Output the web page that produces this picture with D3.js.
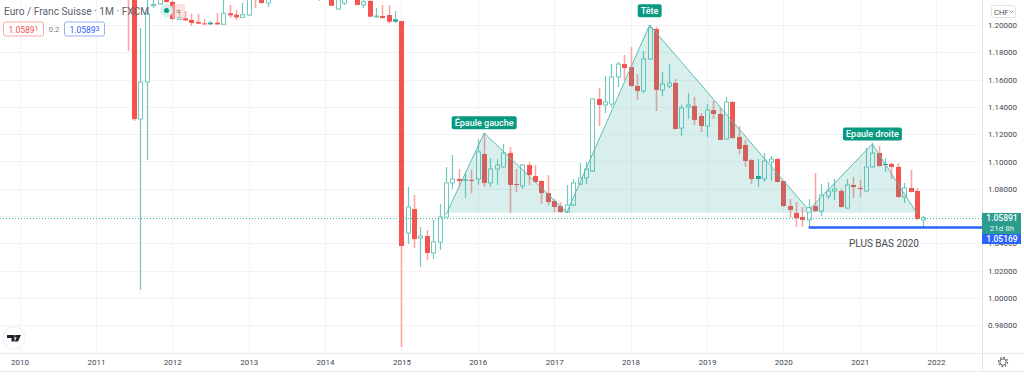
<!DOCTYPE html>
<html>
<head>
<meta charset="utf-8">
<script src="https://cdn.jsdelivr.net/npm/d3@7"></script>
<style>
  body { margin: 0; background: #fff; }
  text { font-family: Roboto, sans-serif; }
  .axis text { font-size: 8px; fill: #434651; }
  .axis path, .axis line { display: none; }
</style>
</head>
<body>
<div id="chart"></div>
<script>
// monthly candles, first one is june 2011 (month 17 counted from jan 2010)
const firstMonth = 17;
const opens = [
  1.2290, 1.2260, 1.1311, 1.1582, 1.2143, 1.2154, 1.2200, 1.2169, 1.2040, 1.2049,
  1.2037, 1.2022, 1.2012, 1.2005, 1.2017, 1.2005, 1.2086, 1.2075, 1.2056, 1.2073,
  1.2300, 1.2230, 1.2161, 1.2200, 1.2350, 1.2300, 1.2350, 1.2310, 1.2370, 1.2330,
  1.2300, 1.2240, 1.2290, 1.2117, 1.2161, 1.2200, 1.2220, 1.2147, 1.2176, 1.2059,
  1.2066, 1.2073, 1.2024, 1.2029, 1.0476, 1.0652, 1.0440, 1.0454, 1.0330, 1.0410,
  1.0593, 1.0843, 1.0872, 1.0861, 1.0865, 1.0872, 1.1055, 1.0843, 1.0945, 1.0960,
  1.1062, 1.0835, 1.0821, 1.0974, 1.0894, 1.0857, 1.0769, 1.0711, 1.0674, 1.0630,
  1.0681, 1.0835, 1.0879, 1.0930, 1.1458, 1.1414, 1.1421, 1.1619, 1.1714, 1.1692,
  1.1553, 1.1517, 1.1751, 1.1971, 1.1524, 1.1553, 1.1575, 1.1245, 1.1399, 1.1407,
  1.1333, 1.1260, 1.1377, 1.1348, 1.1165, 1.1436, 1.1180, 1.1121, 1.1011, 1.0872,
  1.0872, 1.0996, 1.1018, 1.0857, 1.0674, 1.0623, 1.0593, 1.0572, 1.0674, 1.0637,
  1.0747, 1.0784, 1.0784, 1.0659, 1.0828, 1.0806, 1.0784, 1.0960, 1.1062, 1.0974,
  1.0982, 1.0960, 1.0740, 1.0806, 1.0784, 1.0572,
];
const highs = [
  1.2320, 1.2330, 1.1978, 1.2200, 1.2183, 1.2220, 1.2240, 1.2180, 1.2110, 1.2103,
  1.2081, 1.2081, 1.2044, 1.2029, 1.2088, 1.2200, 1.2147, 1.2110, 1.2161, 1.2300,
  1.2340, 1.2260, 1.2230, 1.2400, 1.2380, 1.2420, 1.2400, 1.2400, 1.2420, 1.2380,
  1.2350, 1.2320, 1.2320, 1.2240, 1.2230, 1.2260, 1.2250, 1.2200, 1.2200, 1.2125,
  1.2147, 1.2147, 1.2103, 1.2030, 1.0813, 1.0755, 1.0520, 1.0498, 1.0572, 1.0689,
  1.0960, 1.1048, 1.0945, 1.0916, 1.0938, 1.1165, 1.1209, 1.1026, 1.1018, 1.1128,
  1.1106, 1.0945, 1.0982, 1.0996, 1.0974, 1.0865, 1.0901, 1.0725, 1.0703, 1.0828,
  1.0872, 1.0989, 1.0996, 1.1461, 1.1538, 1.1626, 1.1714, 1.1729, 1.1780, 1.1839,
  1.1641, 1.1810, 1.2000, 1.1985, 1.1656, 1.1714, 1.1604, 1.1414, 1.1502, 1.1473,
  1.1355, 1.1421, 1.1443, 1.1392, 1.1473, 1.1443, 1.1260, 1.1158, 1.1018, 1.1018,
  1.1062, 1.1040, 1.1026, 1.0860, 1.0725, 1.0703, 1.0667, 1.0725, 1.0916, 1.0835,
  1.0850, 1.0872, 1.0799, 1.0872, 1.0887, 1.0865, 1.1099, 1.1136, 1.1114, 1.1026,
  1.0989, 1.0989, 1.0843, 1.0938, 1.0806, 1.0601,
];
const lows = [
  1.1810, 1.1297, 1.0059, 1.1011, 1.2125, 1.2147, 1.2161, 1.2037, 1.2037, 1.2029,
  1.1993, 1.2007, 1.2000, 1.2000, 1.2000, 1.2000, 1.2051, 1.2037, 1.2051, 1.2066,
  1.2125, 1.2157, 1.2132, 1.2190, 1.2260, 1.2280, 1.2270, 1.2290, 1.2300, 1.2260,
  1.2176, 1.2190, 1.2139, 1.2110, 1.2147, 1.2190, 1.2143, 1.2125, 1.2059, 1.2051,
  1.2048, 1.2011, 1.2015, 0.9641, 1.0396, 1.0366, 1.0227, 1.0279, 1.0286, 1.0352,
  1.0590, 1.0799, 1.0813, 1.0733, 1.0769, 1.0828, 1.0813, 1.0813, 1.0828, 1.0956,
  1.0623, 1.0777, 1.0799, 1.0828, 1.0843, 1.0689, 1.0681, 1.0630, 1.0623, 1.0623,
  1.0674, 1.0828, 1.0835, 1.0923, 1.1260, 1.1355, 1.1399, 1.1546, 1.1597, 1.1546,
  1.1451, 1.1502, 1.1744, 1.1370, 1.1480, 1.1538, 1.1235, 1.1187, 1.1311, 1.1267,
  1.1216, 1.1180, 1.1311, 1.1155, 1.1161, 1.1168, 1.1055, 1.0960, 1.0835, 1.0813,
  1.0850, 1.0857, 1.0847, 1.0667, 1.0586, 1.0520, 1.0520, 1.0513, 1.0630, 1.0601,
  1.0725, 1.0718, 1.0663, 1.0655, 1.0733, 1.0740, 1.0781, 1.0956, 1.0963, 1.0923,
  1.0872, 1.0736, 1.0696, 1.0774, 1.0572, 1.0520,
];
const closes = [
  1.2260, 1.1311, 1.1582, 1.2081, 1.2150, 1.2190, 1.2169, 1.2044, 1.2055, 1.2034,
  1.2015, 1.2010, 1.2007, 1.2017, 1.2005, 1.2086, 1.2071, 1.2056, 1.2075, 1.2250,
  1.2200, 1.2161, 1.2200, 1.2350, 1.2300, 1.2350, 1.2310, 1.2370, 1.2330, 1.2300,
  1.2240, 1.2290, 1.2141, 1.2200, 1.2200, 1.2220, 1.2147, 1.2171, 1.2061, 1.2066,
  1.2051, 1.2024, 1.2042, 1.0381, 1.0667, 1.0432, 1.0454, 1.0330, 1.0410, 1.0593,
  1.0843, 1.0872, 1.0857, 1.0868, 1.0857, 1.1070, 1.0843, 1.0945, 1.0974, 1.1062,
  1.0828, 1.0828, 1.0974, 1.0901, 1.0850, 1.0769, 1.0703, 1.0667, 1.0630, 1.0681,
  1.0843, 1.0879, 1.0945, 1.1458, 1.1414, 1.1436, 1.1619, 1.1714, 1.1685, 1.1553,
  1.1517, 1.1751, 1.1978, 1.1524, 1.1568, 1.1575, 1.1238, 1.1392, 1.1414, 1.1304,
  1.1260, 1.1377, 1.1348, 1.1158, 1.1436, 1.1172, 1.1092, 1.1004, 1.0872, 1.0894,
  1.1004, 1.1018, 1.0850, 1.0674, 1.0645, 1.0586, 1.0572, 1.0659, 1.0637, 1.0755,
  1.0784, 1.0799, 1.0667, 1.0828, 1.0813, 1.0799, 1.0960, 1.1062, 1.0967, 1.0982,
  1.0960, 1.0740, 1.0806, 1.0777, 1.0579, 1.05891,
];
// hollow candle style: these months are drawn filled green
const solidGreen = [30, 59, 70, 116, 136];

const years = d3.range(2010, 2023);
const priceTicks = [1.2, 1.18, 1.16, 1.14, 1.12, 1.1, 1.08, 1.06, 1.04, 1.02, 1.0, 0.98];
// 1.06 sits behind the price tag
const priceLabels = priceTicks.filter((d) => d !== 1.06);

// head and shoulders drawing
const patternMonths = [67, 73, 86, 99, 124, 134, 141];
const patternPrices = [1.0608, 1.1209, 1.0628, 1.2, 1.0645, 1.1128, 1.0621];
const patternBase = 1.0625;
const patternLabels = ["Épaule gauche", "Tête", "Epaule droite"];
const labelMonths = [73, 99, 134];
const labelPrices = [1.1283, 1.2105, 1.1202];

const lastPrice = 1.05891;
const lowPrice = 1.05169;
const lowMonth = 124;

const width = 1024;
const height = 376;
const plotRight = 982;
const plotBottom = 353;
const green = "#26a69a";
const red = "#f55350";

const x = d3.scaleLinear().domain([0, 144]).range([19.5, 936]);
const y = d3.scaleLinear().domain([1.2, 0.98]).range([25, 325.3]);

const svg = d3
  .select("#chart")
  .append("svg")
  .attr("width", width)
  .attr("height", height)
  .style("display", "block");

svg
  .append("defs")
  .append("clipPath")
  .attr("id", "plot")
  .append("rect")
  .attr("width", plotRight)
  .attr("height", plotBottom);

// grid
svg
  .append("g")
  .selectAll("line")
  .data(priceTicks)
  .join("line")
  .attr("x1", 0)
  .attr("x2", plotRight)
  .attr("y1", (d) => Math.round(y(d)) + 0.5)
  .attr("y2", (d) => Math.round(y(d)) + 0.5)
  .attr("stroke", "#f3f3f5");

svg
  .append("g")
  .selectAll("line")
  .data(years)
  .join("line")
  .attr("x1", (d) => Math.round(x((d - 2010) * 12)) + 0.5)
  .attr("x2", (d) => Math.round(x((d - 2010) * 12)) + 0.5)
  .attr("y1", 0)
  .attr("y2", plotBottom)
  .attr("stroke", "#f3f3f5");

const plot = svg.append("g").attr("clip-path", "url(#plot)");

// candles
const candles = opens.map((o, i) => ({
  month: firstMonth + i,
  open: o,
  high: highs[i],
  low: lows[i],
  close: closes[i],
}));
const isGreen = (d) => d.close >= d.open || solidGreen.includes(d.month);
const isHollow = (d) => d.close >= d.open && !solidGreen.includes(d.month);

plot
  .append("g")
  .selectAll("line")
  .data(candles)
  .join("line")
  .attr("x1", (d) => Math.round(x(d.month)) + 0.5)
  .attr("x2", (d) => Math.round(x(d.month)) + 0.5)
  .attr("y1", (d) => y(d.high))
  .attr("y2", (d) => y(d.low))
  .attr("stroke", (d) => (isGreen(d) ? "#6fcabd" : "#fba5a2"))
  .attr("stroke-width", (d) => (isGreen(d) ? 1.2 : 1.6));

plot
  .append("g")
  .selectAll("rect")
  .data(candles)
  .join("rect")
  .attr("x", (d) => Math.round(x(d.month)) - (isHollow(d) ? 1.5 : 2))
  .attr("width", (d) => (isHollow(d) ? 4 : 5))
  .attr("y", (d) => y(Math.max(d.open, d.close)))
  .attr("height", (d) => Math.max(1, Math.abs(y(d.open) - y(d.close))))
  .attr("fill", (d) => (isHollow(d) ? "#fff" : isGreen(d) ? green : red))
  .attr("stroke", (d) => (isHollow(d) ? "#6fcabd" : "none"));

// pattern on top of the candles
const patternPoints = patternMonths.map((m, i) => [m, patternPrices[i]]);
const patternArea = d3
  .area()
  .x((d) => x(d[0]))
  .y0(y(patternBase))
  .y1((d) => y(d[1]));
const patternLine = d3
  .line()
  .x((d) => x(d[0]))
  .y((d) => y(d[1]));

plot
  .append("path")
  .attr("d", patternArea(patternPoints))
  .attr("fill", green)
  .attr("fill-opacity", 0.18);

plot
  .append("path")
  .attr("d", patternLine(patternPoints))
  .attr("fill", "none")
  .attr("stroke", "#5dbcae")
  .attr("stroke-width", 1);

plot
  .append("circle")
  .attr("cx", x(lowMonth))
  .attr("cy", y(patternPrices[4]))
  .attr("r", 2.5)
  .attr("fill", "#fff")
  .attr("stroke", "#5dbcae");

// last price line
plot
  .append("line")
  .attr("x1", 0)
  .attr("x2", plotRight)
  .attr("y1", Math.round(y(lastPrice)) + 0.5)
  .attr("y2", Math.round(y(lastPrice)) + 0.5)
  .attr("stroke", "#3fb5a6")
  .attr("stroke-dasharray", "1 2");

// low of 2020
plot
  .append("line")
  .attr("x1", x(lowMonth))
  .attr("x2", plotRight)
  .attr("y1", y(lowPrice))
  .attr("y2", y(lowPrice))
  .attr("stroke", "#2962ff")
  .attr("stroke-width", 2.5);

svg
  .append("text")
  .attr("x", 884)
  .attr("y", 246.5)
  .attr("text-anchor", "middle")
  .style("font-size", "10px")
  .attr("fill", "#4a4a50")
  .text("PLUS BAS 2020");

// pattern labels
const labels = svg
  .append("g")
  .selectAll("g")
  .data(patternLabels)
  .join("g")
  .attr("transform", (d, i) => `translate(${x(labelMonths[i])},${y(labelPrices[i])})`);

labels
  .append("text")
  .attr("text-anchor", "middle")
  .attr("dy", "0.35em")
  .attr("fill", "#fff")
  .style("font-size", "9px")
  .style("font-weight", 500)
  .text((d) => d)
  .each(function () {
    const b = this.getBBox();
    d3.select(this.parentNode)
      .insert("rect", "text")
      .attr("x", b.x - 3)
      .attr("y", -6.5)
      .attr("width", b.width + 6)
      .attr("height", 13)
      .attr("rx", 2)
      .attr("fill", "#089981");
  });

// axes
svg
  .append("rect")
  .attr("x", plotRight)
  .attr("y", 0)
  .attr("width", 1)
  .attr("height", 372)
  .attr("fill", "#e0e3eb");
svg
  .append("rect")
  .attr("x", 0)
  .attr("y", plotBottom)
  .attr("width", width)
  .attr("height", 1)
  .attr("fill", "#e8eaef");
svg
  .append("rect")
  .attr("x", 0)
  .attr("y", 371)
  .attr("width", width)
  .attr("height", 1)
  .attr("fill", "#e8eaef");

svg
  .append("g")
  .attr("class", "axis")
  .attr("transform", `translate(${plotRight},0)`)
  .call(d3.axisRight(y).tickValues(priceLabels).tickSize(0).tickPadding(6).tickFormat(d3.format(".5f")));

svg
  .append("g")
  .attr("class", "axis")
  .attr("transform", `translate(0,${plotBottom})`)
  .call(
    d3
      .axisBottom(x)
      .tickValues(years.map((d) => (d - 2010) * 12))
      .tickSize(0)
      .tickPadding(6)
      .tickFormat((d) => 2010 + d / 12)
  );

// price tags on the axis
const priceTag = svg.append("g");
priceTag
  .append("rect")
  .attr("x", plotRight)
  .attr("y", 213)
  .attr("width", 39)
  .attr("height", 21)
  .attr("fill", "#2a9d8f");
priceTag
  .append("text")
  .attr("x", 1002)
  .attr("y", 221)
  .attr("text-anchor", "middle")
  .attr("fill", "#fff")
  .style("font-size", "8.5px")
  .style("font-weight", 500)
  .text("1.05891");
priceTag
  .append("text")
  .attr("x", 1002)
  .attr("y", 231)
  .attr("text-anchor", "middle")
  .attr("fill", "#e3f4f1")
  .style("font-size", "8px")
  .text("21d 8h");
priceTag
  .append("rect")
  .attr("x", plotRight)
  .attr("y", 234)
  .attr("width", 39)
  .attr("height", 10)
  .attr("fill", "#2962ff");
priceTag
  .append("text")
  .attr("x", 1002)
  .attr("y", 242)
  .attr("text-anchor", "middle")
  .attr("fill", "#fff")
  .style("font-size", "8.5px")
  .style("font-weight", 500)
  .text("1.05169");

// currency button
svg
  .append("rect")
  .attr("x", 991.5)
  .attr("y", 5.5)
  .attr("width", 24)
  .attr("height", 12)
  .attr("rx", 2)
  .attr("fill", "#fff")
  .attr("stroke", "#e0e3eb");
svg
  .append("text")
  .attr("x", 994)
  .attr("y", 14.5)
  .attr("fill", "#50535e")
  .style("font-size", "7.5px")
  .text("CHF");
svg
  .append("path")
  .attr("d", "M1009.5 10.5l2 2l2-2")
  .attr("fill", "none")
  .attr("stroke", "#50535e")
  .attr("stroke-width", 0.7);

// header
svg
  .append("rect")
  .attr("x", 172)
  .attr("y", 4)
  .attr("width", 13)
  .attr("height", 15)
  .attr("rx", 2)
  .attr("fill", "#f9c9c7")
  .attr("fill-opacity", 0.55);
svg
  .append("text")
  .attr("x", 178.5)
  .attr("y", 14)
  .attr("text-anchor", "middle")
  .attr("fill", "#9a5a5a")
  .style("font-size", "8px")
  .text("≈");
svg.append("circle").attr("cx", 166.5).attr("cy", 10.5).attr("r", 6.5).attr("fill", "#d9efec");
svg.append("circle").attr("cx", 166.5).attr("cy", 10.5).attr("r", 2.5).attr("fill", "#089981");

svg
  .append("text")
  .attr("x", 4)
  .attr("y", 15)
  .attr("fill", "#5d606b")
  .style("font-size", "10.2px")
  .text("Euro / Franc Suisse · 1M · FXCM");

const quoteBoxes = [
  { x: 3.5, w: 40, c: "#ef5350", s: "#f7a9a7", main: "1.0589", sup: "1" },
  { x: 64.5, w: 40, c: "#2962ff", s: "#98b2fb", main: "1.0589", sup: "3" },
];
const quotes = svg.append("g").selectAll("g").data(quoteBoxes).join("g");
quotes
  .append("rect")
  .attr("x", (d) => d.x)
  .attr("y", 22)
  .attr("width", (d) => d.w)
  .attr("height", 14)
  .attr("rx", 2)
  .attr("fill", "#fff")
  .attr("stroke", (d) => d.s);
const quoteText = quotes
  .append("text")
  .attr("x", (d) => d.x + d.w / 2)
  .attr("y", 32.5)
  .attr("text-anchor", "middle")
  .attr("fill", (d) => d.c)
  .style("font-size", "8.5px");
quoteText.append("tspan").text((d) => d.main);
quoteText
  .append("tspan")
  .attr("dy", -1.5)
  .style("font-size", "7px")
  .text((d) => d.sup);
svg
  .append("text")
  .attr("x", 54)
  .attr("y", 32)
  .attr("text-anchor", "middle")
  .attr("fill", "#787b86")
  .style("font-size", "7.5px")
  .text("0.2");

// tradingview badge
svg
  .append("circle")
  .attr("cx", 14)
  .attr("cy", 338)
  .attr("r", 11)
  .attr("fill", "#fff")
  .attr("stroke", "#eeeff2");
svg
  .append("path")
  .attr("d", "M7 335h7.5v6.5h-3v-3.5h-4.5z M16.5 335h4.5l-3 6.5h-3.5l2-3.5z")
  .attr("fill", "#1e222d");
svg.append("circle").attr("cx", 16).attr("cy", 336.2).attr("r", 1.2).attr("fill", "#1e222d");

// settings gear
svg
  .append("circle")
  .attr("cx", 1003)
  .attr("cy", 362)
  .attr("r", 3.2)
  .attr("fill", "none")
  .attr("stroke", "#50535e")
  .attr("stroke-width", 1);
svg
  .append("circle")
  .attr("cx", 1003)
  .attr("cy", 362)
  .attr("r", 4.6)
  .attr("fill", "none")
  .attr("stroke", "#50535e")
  .attr("stroke-width", 1.2)
  .attr("stroke-dasharray", "1.6 2");
</script>
</body>
</html>
